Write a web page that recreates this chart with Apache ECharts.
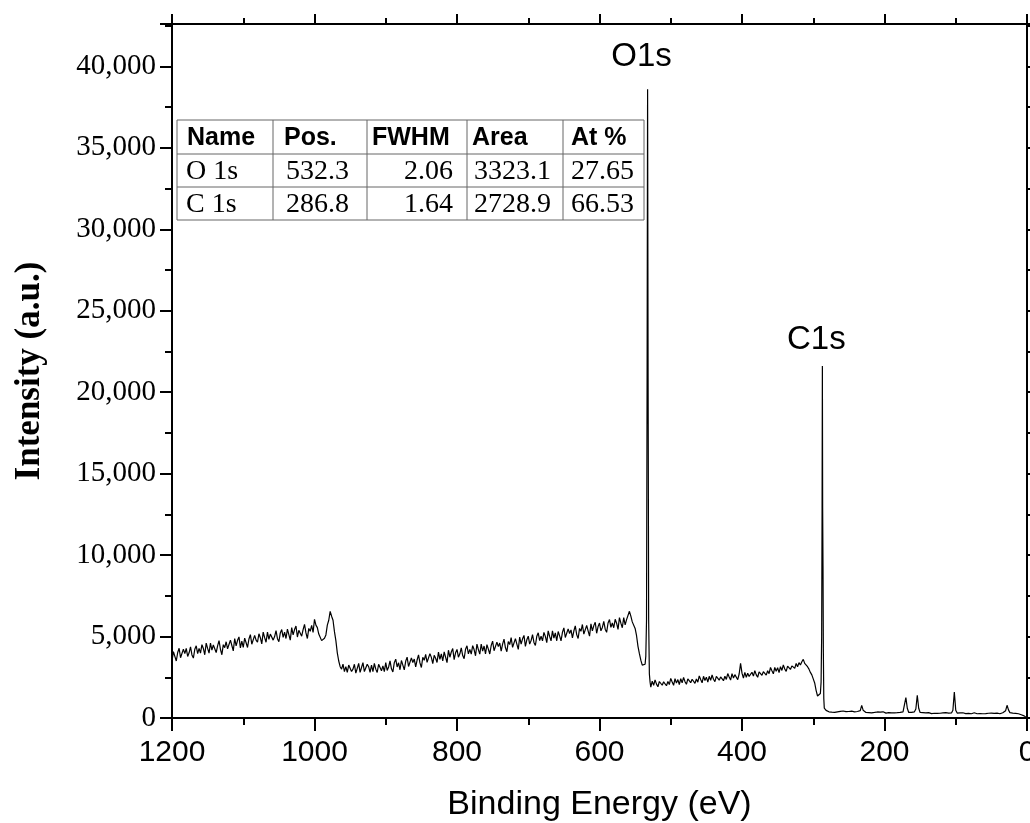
<!DOCTYPE html>
<html>
<head>
<meta charset="utf-8">
<script src="https://cdn.jsdelivr.net/npm/echarts@6/dist/echarts.min.js"></script>
<style>
  html, body { margin: 0; padding: 0; background: #fff; }
  #main { width: 1030px; height: 823px; }
</style>
</head>
<body>
<div id="main"></div>
<script>
// survey scan, sampled every 2 eV except across the two main peaks
var STEP = 2

// 1200 -> 536 eV (background, O KLL Auger, step before O1s)
var bgHighStart = 1200
var bgHigh = [
  3500, 4070, 3780, 3500, 4020, 4280, 3700, 3620, 4230, 3950,
  4270, 3780, 4000, 4370, 3870, 3680, 4220, 4430, 3950, 4270,
  3980, 4500, 4270, 3880, 4600, 4270, 3980, 4600, 4170, 4480,
  4500, 4020, 4430, 4750, 4220, 3880, 4500, 4320, 4680, 4250,
  4220, 4780, 4450, 4120, 4880, 4430, 4770, 4980, 4300, 4720,
  4330, 4900, 4620, 4330, 4850, 5120, 4530, 4450, 5070, 4780,
  4650, 5170, 4930, 4550, 5270, 4930, 4650, 5270, 4830, 5150,
  5270, 4780, 5000, 5370, 4870, 4680, 5220, 5430, 4950, 5270,
  4880, 5450, 5120, 4780, 5550, 5100, 5430, 5650, 4970, 5380,
  5500, 5020, 5430, 5750, 5220, 4880, 5500, 5320, 5680, 5250,
  6050, 5700, 5550, 5150, 5200, 4750, 4650, 4900, 5100, 5700,
  6000, 6550, 6250, 6000, 5300, 4750, 4000, 3500, 3150, 3000,
  3300, 2850, 3150, 2800, 3250, 3350, 2850, 3000, 3300, 2750,
  3050, 3350, 2800, 3100, 3400, 2850, 2950, 3300, 3150, 2800,
  3250, 2850, 3350, 3000, 2800, 3300, 3400, 2900, 3200, 2850,
  3400, 2920, 3130, 3500, 3020, 2830, 3400, 3610, 3130, 3390,
  2960, 3530, 3250, 2960, 3480, 3740, 3160, 3090, 3690, 3410,
  3620, 3140, 3560, 3870, 3380, 3100, 3730, 3540, 3910, 3420,
  3440, 3950, 3720, 3340, 3850, 3670, 3410, 4050, 3600, 3930,
  3500, 4060, 3730, 3400, 4160, 3730, 4050, 4260, 3580, 4000,
  4210, 3730, 3940, 4310, 3830, 3640, 4220, 4430, 3940, 4210,
  3920, 4440, 4200, 3820, 4540, 4200, 3920, 4540, 4100, 4420,
  3930, 4500, 4230, 3930, 4450, 4720, 4130, 4050, 4660, 4380,
  4600, 4110, 4530, 4840, 4310, 4070, 4690, 4510, 4930, 4340,
  4310, 4870, 4540, 4210, 4970, 4540, 4860, 5070, 4390, 4800,
  5020, 4540, 4750, 5120, 4640, 4450, 5020, 5230, 4750, 5020,
  4730, 5250, 5010, 4630, 5350, 5010, 4730, 5350, 4910, 5230,
  4740, 5310, 5040, 4740, 5260, 5530, 4940, 4860, 5470, 5190,
  5410, 4920, 5340, 5650, 5120, 4880, 5500, 5320, 5740, 5150,
  5120, 5680, 5350, 5020, 5780, 5350, 5670, 5880, 5200, 5610,
  5830, 5350, 5560, 5930, 5450, 5260, 5830, 6040, 5560, 5830,
  5540, 6060, 5820, 5440, 6160, 5820, 5540, 6160, 5720, 6040,
  6150, 6550, 6250, 5900, 5850, 5500, 5050, 4400, 3950, 3550,
  3250, 3150, 3300
]

// O1s peak
var o1sEnergy = [535, 534, 533.2, 532.5, 531.8, 531, 530, 529]
var o1sCounts = [3800, 6000, 21000, 38600, 21000, 6000, 2700, 2200]

// 528 -> 290 eV (flat region, N1s blip, step before C1s)
var bgMidStart = 528
var bgMid = [
  1900, 2260, 2010, 2340, 2080, 1920, 2240, 2350, 2010, 2220,
  2320, 1980, 2240, 2050, 2430, 2210, 2010, 2410, 2140, 2360,
  2050, 2410, 2160, 2490, 2230, 2070, 2400, 2510, 2170, 2380,
  2470, 2130, 2390, 2200, 2580, 2360, 2160, 2560, 2300, 2510,
  2200, 2560, 2310, 2640, 2380, 2230, 2550, 2660, 2320, 2520,
  2620, 2290, 2560, 2370, 2730, 2520, 2330, 2720, 2450, 2660,
  2600, 2350, 2700, 3350, 2750, 2450, 2800, 2500, 2750, 2550,
  2440, 2810, 2570, 2910, 2650, 2500, 2830, 2950, 2620, 2840,
  2960, 2630, 2900, 2720, 3100, 2900, 2710, 3100, 2870, 3090,
  2790, 3150, 2920, 3260, 3010, 2860, 3190, 3310, 2980, 3200,
  3300, 3050, 3350, 3150, 3400, 3250, 3450, 3600, 3350, 3400,
  3150, 3000, 2800, 2650, 2400, 2150, 1700, 1350, 1300, 1500
]

// C1s peak
var c1sEnergy = [289, 288.2, 287.6, 287.2, 286.8, 286.3, 285.8, 285.2, 284.5]
var c1sCounts = [2200, 5000, 12900, 21600, 12900, 9300, 4000, 1200, 600]

// 284 -> 0 eV (low background with small core lines)
var bgLowStart = 284
var bgLow = [
  600, 470, 420, 380, 440, 360, 410, 350, 420, 380,
  340, 410, 370, 430, 350, 390, 330, 400, 360, 420,
  350, 380, 330, 400, 360, 450, 780, 480, 360, 340,
  390, 330, 370, 320, 380, 340, 310, 370, 330, 360,
  320, 380, 340, 300, 360, 330, 370, 310, 350, 320,
  360, 330, 300, 350, 320, 380, 450, 1250, 600, 340,
  310, 350, 330, 380, 550, 1400, 600, 340, 300, 330,
  290, 320, 280, 330, 300, 270, 320, 290, 310, 280,
  320, 290, 270, 310, 280, 330, 290, 300, 270, 310,
  480, 1600, 480, 300, 270, 310, 280, 320, 290, 270,
  300, 280, 310, 260, 290, 320, 280, 260, 300, 270,
  290, 260, 300, 270, 250, 290, 260, 300, 270, 280,
  250, 300, 270, 260, 290, 320, 380, 450, 780, 500,
  330, 280, 300, 260, 280, 240, 260, 220, 200, 170,
  130, 60, 0
]

// peak labels
var peakNames = ['O1s', 'C1s']
var peakEnergy = [532.5, 287.2]
var peakCounts = [38600, 21600]

// quantification table
var tableHead = ['Name', 'Pos.', 'FWHM', 'Area', 'At %']
var tableRows = [
  ['O 1s', '532.3', '2.06', '3323.1', '27.65'],
  ['C 1s', '286.8', '1.64', '2728.9', '66.53']
]

var xTicks = [0, 200, 400, 600, 800, 1000, 1200]

// assemble the spectrum
var spectrum = []
function addGrid(start, values) {
  for (var i = 0; i < values.length; i++) spectrum.push([start - i * STEP, values[i]])
}
function addPoints(xs, ys) {
  for (var i = 0; i < xs.length; i++) spectrum.push([xs[i], ys[i]])
}
addGrid(bgHighStart, bgHigh)
addPoints(o1sEnergy, o1sCounts)
addGrid(bgMidStart, bgMid)
addPoints(c1sEnergy, c1sCounts)
addGrid(bgLowStart, bgLow)

var labelGap = [16, 10]
var marks = []
for (var i = 0; i < peakNames.length; i++) {
  marks.push({ name: peakNames[i], coord: [peakEnergy[i], peakCounts[i]], label: { distance: labelGap[i] } })
}

var SERIF = '"Liberation Serif", "Times New Roman", serif'
var SANS = '"Liberation Sans", Arial, sans-serif'

// table drawn as graphic elements
var colX = [177, 273, 367, 467, 563, 644]
var rowY = [120, 154, 187, 220]
var headX = [187, 284, 372, 472, 571]
var padR = [0, 18, 14, 12, 10]
function buildTable() {
  var els = []
  els.push({
    type: 'rect', shape: { x: colX[0], y: rowY[0], width: colX[5] - colX[0], height: rowY[3] - rowY[0] },
    style: { fill: '#fff', stroke: '#666', lineWidth: 1 }, z: 10
  })
  for (var c = 1; c < 5; c++) {
    els.push({ type: 'line', shape: { x1: colX[c], y1: rowY[0], x2: colX[c], y2: rowY[3] }, style: { stroke: '#666', lineWidth: 1 }, z: 11 })
  }
  for (var r = 1; r < 3; r++) {
    els.push({ type: 'line', shape: { x1: colX[0], y1: rowY[r], x2: colX[5], y2: rowY[r] }, style: { stroke: '#666', lineWidth: 1 }, z: 11 })
  }
  for (var c = 0; c < 5; c++) {
    els.push({
      type: 'text', z: 12,
      style: {
        text: tableHead[c], x: headX[c], y: (rowY[0] + rowY[1]) / 2 + 1,
        font: 'bold 25px ' + SANS, fill: '#000', verticalAlign: 'middle', align: 'left'
      }
    })
  }
  for (var r = 0; r < tableRows.length; r++) {
    for (var c = 0; c < 5; c++) {
      var left = c === 0
      els.push({
        type: 'text', z: 12,
        style: {
          text: tableRows[r][c], x: left ? colX[c] + 9 : colX[c + 1] - padR[c],
          y: (rowY[r + 1] + rowY[r + 2]) / 2 + 1,
          font: '28px ' + SERIF, fill: '#000', verticalAlign: 'middle', align: left ? 'left' : 'right'
        }
      })
    }
  }
  return els
}

var dom = document.getElementById('main')
var myChart = echarts.init(dom, null, { renderer: 'canvas' })
var option

option = {
  animation: false,
  backgroundColor: '#fff',
  grid: { left: 172, right: 3, top: 24, bottom: 105, containLabel: false, outerBoundsMode: 'none' },
  xAxis: [
    {
      type: 'value', min: 0, max: 1200, interval: 200, inverse: true,
      position: 'bottom',
      name: 'Binding Energy (eV)', nameLocation: 'middle', nameGap: 70,
      nameTextStyle: { fontFamily: SANS, fontSize: 34, color: '#000', verticalAlign: 'top' },
      axisLine: { show: true, onZero: false, lineStyle: { color: '#000', width: 2 } },
      axisTick: { show: true, length: 13, lineStyle: { color: '#000', width: 2 } },
      minorTick: { show: true, splitNumber: 2, length: 7, lineStyle: { color: '#000', width: 2 } },
      axisLabel: {
        fontFamily: SANS, fontSize: 30, color: '#000', margin: 20,
        formatter: function (v) { return xTicks.indexOf(v) >= 0 ? String(v) : '' }
      },
      splitLine: { show: false }
    },
    {
      type: 'value', min: 0, max: 1200, interval: 200, inverse: true,
      position: 'top',
      axisLine: { show: true, onZero: false, lineStyle: { color: '#000', width: 2 } },
      axisTick: { show: true, length: 10, lineStyle: { color: '#000', width: 2 } },
      minorTick: { show: true, splitNumber: 2, length: 6, lineStyle: { color: '#000', width: 2 } },
      axisLabel: { show: false },
      splitLine: { show: false }
    }
  ],
  yAxis: [
    {
      type: 'value', min: 0, max: 42600, interval: 5000,
      position: 'left',
      name: 'Intensity (a.u.)', nameLocation: 'middle', nameGap: 125,
      nameTextStyle: { fontFamily: SERIF, fontSize: 35, fontWeight: 'bold', color: '#000' },
      axisLine: { show: true, onZero: false, lineStyle: { color: '#000', width: 2 } },
      axisTick: { show: true, length: 12, lineStyle: { color: '#000', width: 2 } },
      minorTick: { show: true, splitNumber: 2, length: 7, lineStyle: { color: '#000', width: 2 } },
      axisLabel: {
        fontFamily: SERIF, fontSize: 29, color: '#000', margin: 16, showMaxLabel: false,
        formatter: function (v) {
          if (v % 5000 !== 0) return ''
          return String(v).replace(/\B(?=(\d{3})+(?!\d))/g, ',')
        }
      },
      splitLine: { show: false }
    },
    {
      type: 'value', min: 0, max: 42600, interval: 5000,
      position: 'right',
      axisLine: { show: true, onZero: false, lineStyle: { color: '#000', width: 2 } },
      axisTick: { show: true, length: 10, lineStyle: { color: '#000', width: 2 } },
      minorTick: { show: true, splitNumber: 2, length: 6, lineStyle: { color: '#000', width: 2 } },
      axisLabel: { show: false },
      splitLine: { show: false }
    }
  ],
  series: [
    {
      type: 'line',
      xAxisIndex: 0, yAxisIndex: 0,
      data: spectrum,
      showSymbol: false,
      lineStyle: { color: '#000', width: 1.2 },
      z: 5,
      markPoint: {
        symbol: 'circle', symbolSize: 0,
        label: {
          show: true, position: 'top', offset: [-6, 0],
          formatter: '{b}', fontFamily: SANS, fontSize: 33, color: '#000'
        },
        data: marks
      }
    }
  ],
  graphic: buildTable()
}

myChart.setOption(option)
</script>
</body>
</html>
